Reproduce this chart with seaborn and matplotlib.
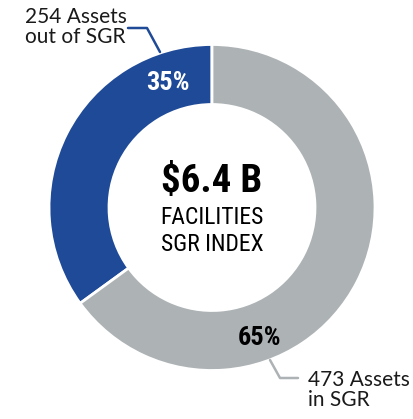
import matplotlib
matplotlib.use('Agg')
import matplotlib.pyplot as plt
from matplotlib import font_manager
import seaborn as sns

# data
labels = ['out of SGR', 'in SGR']
shares = [35, 65]
asset_counts = [254, 473]
total_value = '$6.4 B'
center_lines = ['FACILITIES', 'SGR INDEX']
colors = ['#1f4a97', '#adb2b5']

sns.set_theme(style='white')

installed = {f.name for f in font_manager.fontManager.ttflist}

def pick(*names):
    for n in names:
        if n in installed:
            return n
    return 'DejaVu Sans'

narrow = pick('Liberation Sans Narrow', 'Roboto Condensed', 'Liberation Sans')
body = pick('Lato', 'Open Sans', 'Noto Sans')

fig = plt.figure(figsize=(4.14, 4.19), dpi=100)
ax = fig.add_axes([0, 0, 1, 1])

ax.pie(shares, colors=colors, startangle=90, counterclock=True,
       center=(212, 211.5), radius=163,
       wedgeprops=dict(width=60, edgecolor='white', linewidth=2))
ax.set_xlim(0, 414)
ax.set_ylim(0, 419)
ax.set_aspect('equal')
ax.axis('off')

# percent labels on the ring
ax.text(168, 336, f'{shares[0]}%', color='white', fontsize=19, fontweight='bold',
        family=narrow, ha='center', va='center')
ax.text(260, 81, f'{shares[1]}%', color='black', fontsize=19, fontweight='bold',
        family=narrow, ha='center', va='center')

# centre text
ax.text(212, 238, total_value, fontsize=28, fontweight='bold', family=narrow,
        ha='center', va='center', color='black')
ax.text(212, 202, center_lines[0], fontsize=17, family=narrow,
        ha='center', va='center', color='black')
ax.text(212, 175, center_lines[1], fontsize=17, family=narrow,
        ha='center', va='center', color='black')

# callouts
ax.text(25, 392, f'{asset_counts[0]} Assets\n{labels[0]}', fontsize=15, family=body,
        ha='left', va='center', linespacing=1.05, color='#1a1a1a')
ax.plot([128, 147, 160], [391, 391, 367], color=colors[0], lw=1.8)

ax.text(308, 29, f'{asset_counts[1]} Assets\n{labels[1]}', fontsize=15, family=body,
        ha='left', va='center', linespacing=1.05, color='#1a1a1a')
ax.plot([270, 280, 298], [59, 41, 41], color=colors[1], lw=1.8)

fig.savefig('out.png', dpi=100, facecolor='white')
